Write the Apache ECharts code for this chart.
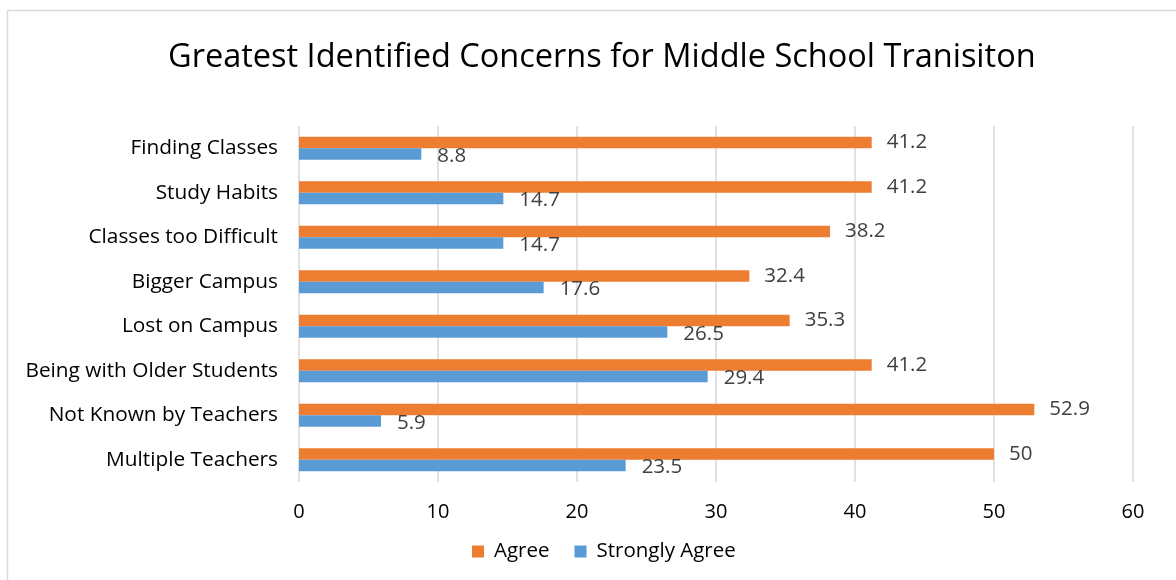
<!DOCTYPE html>
<html><head><meta charset="utf-8">
<script src="https://cdn.jsdelivr.net/npm/echarts@6/dist/echarts.min.js"></script>
<style>html,body{margin:0;padding:0;background:#fff}#c{width:1176px;height:580px}</style>
</head><body><div id="c"></div>
<script>
const categories = ['Multiple Teachers','Not Known by Teachers','Being with Older Students','Lost on Campus','Bigger Campus','Classes too Difficult','Study Habits','Finding Classes'];
const agree = [50, 52.9, 41.2, 35.3, 32.4, 38.2, 41.2, 41.2];
const stronglyAgree = [23.5, 5.9, 29.4, 26.5, 17.6, 14.7, 14.7, 8.8];
const xTicks = [0, 10, 20, 30, 40, 50, 60];
const FONT = 'Open Sans';
const chart = echarts.init(document.getElementById('c'), null, {renderer:'canvas'});
chart.setOption({
  animation:false,
  textStyle:{fontFamily:FONT},
  graphic:[{type:'rect',shape:{x:7.5,y:10.5,width:1180,height:600},style:{fill:'none',stroke:'#d9d9d9',lineWidth:1.5},silent:true}],
  title:{text:'Greatest Identified Concerns for Middle School Tranisiton',left:163,top:36,
    textStyle:{fontFamily:FONT,fontSize:32.5,fontWeight:'normal',color:'#000'}},
  legend:{data:['Agree','Strongly Agree'],left:467,top:536,itemWidth:12,itemHeight:12,itemGap:25,
    icon:'rect',textStyle:{fontFamily:FONT,fontSize:20.5,color:'#000',padding:[0,0,0,5]}},
  grid:{left:299,right:43,top:126,bottom:98,containLabel:false},
  xAxis:{type:'value',min:xTicks[0],max:xTicks[xTicks.length-1],interval:10,
    axisLine:{show:false},axisTick:{show:false},
    axisLabel:{fontFamily:FONT,fontSize:20,color:'#000',margin:20},
    splitLine:{show:true,lineStyle:{color:'#d9d9d9',width:1.5}}},
  yAxis:{type:'category',data:categories,
    axisLine:{show:false},axisTick:{show:false},
    axisLabel:{fontFamily:FONT,fontSize:20.8,color:'#000',margin:21}},
  series:[
    {name:'Agree',type:'bar',data:agree,barWidth:11.5,barGap:'0%',
      itemStyle:{color:'#ed7d31'},
      label:{show:true,position:'right',distance:15,fontFamily:FONT,fontSize:20.5,color:'#404040',offset:[0,0]}},
    {name:'Strongly Agree',type:'bar',data:stronglyAgree,barWidth:11.5,barGap:'0%',
      itemStyle:{color:'#5b9bd5'},
      label:{show:true,position:'right',distance:16,fontFamily:FONT,fontSize:20.5,color:'#404040',offset:[0,2]}}
  ]
});
</script></body></html>
